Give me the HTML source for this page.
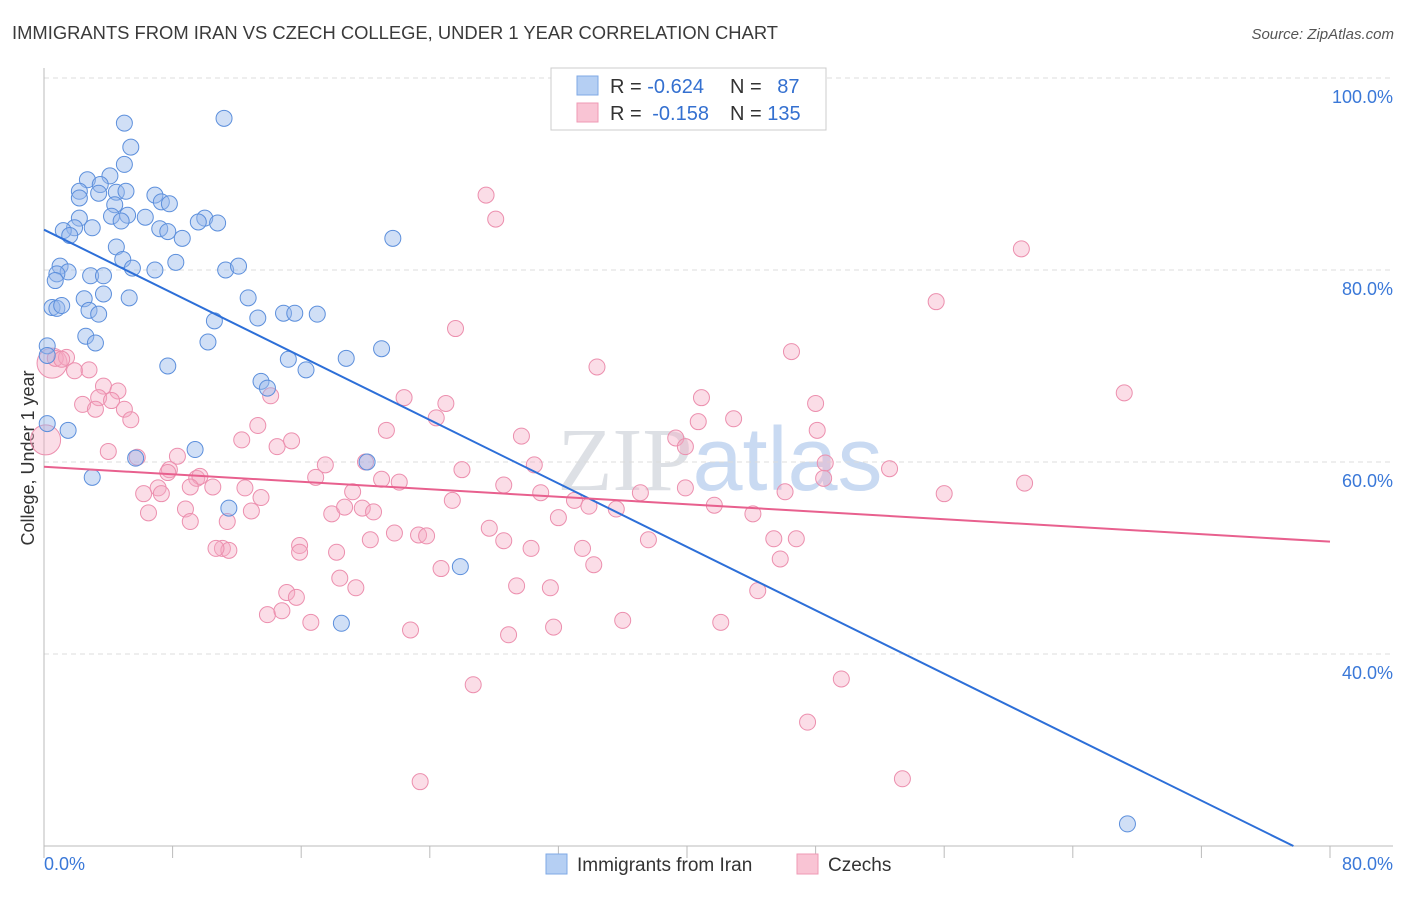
<!DOCTYPE html>
<html><head><meta charset="utf-8"><style>
body{margin:0;background:#fff;font-family:"Liberation Sans",sans-serif;}
svg text{font-family:"Liberation Sans",sans-serif;}
</style></head><body>
<svg id="chart" width="1406" height="892" xmlns="http://www.w3.org/2000/svg">
<text x="12" y="39" font-size="18" fill="#3a3a3a" textLength="766" lengthAdjust="spacingAndGlyphs">IMMIGRANTS FROM IRAN VS CZECH COLLEGE, UNDER 1 YEAR CORRELATION CHART</text>
<text x="1394" y="39" font-size="15" fill="#555" text-anchor="end" font-style="italic">Source: ZipAtlas.com</text>
<text x="720" y="490" font-size="90" text-anchor="middle" fill="#e4e9f1"><tspan font-family="Liberation Serif" fill="#dde0e5">ZIP</tspan><tspan fill="#c9daf2">atlas</tspan></text>
<text transform="translate(34,458) rotate(-90)" font-size="18" fill="#333" text-anchor="middle">College, Under 1 year</text>
<g id="grid"></g><g id="pts"></g><g id="lines"></g>
<g>
<rect x="551" y="68" width="275" height="62" fill="#fff" stroke="#ccc"/>
<rect x="577" y="76" width="21" height="19" fill="#b5cff3" stroke="#7fa9e6"/>
<rect x="577" y="103" width="21" height="19" fill="#f9c4d4" stroke="#ef9ab5"/>
<text x="610" y="93" font-size="20" fill="#333">R = <tspan fill="#3470d0">-0.624</tspan></text>
<text x="730" y="93" font-size="20" fill="#333">N = <tspan fill="#3470d0" dx="10">87</tspan></text>
<text x="610" y="120" font-size="20" fill="#333">R = <tspan fill="#3470d0" dx="5">-0.158</tspan></text>
<text x="730" y="120" font-size="20" fill="#333">N = <tspan fill="#3470d0">135</tspan></text>
</g>
<g>
<rect x="546" y="854" width="21" height="20" fill="#b5cff3" stroke="#7fa9e6"/>
<text x="577" y="871" font-size="19" fill="#333">Immigrants from Iran</text>
<rect x="797" y="854" width="21" height="20" fill="#f9c4d4" stroke="#ef9ab5"/>
<text x="828" y="871" font-size="19" fill="#333">Czechs</text>
</g>
</svg>
<script>
const xTicks=[0,10,20,30,40,50,60,70,80];
const yTicks=[40,60,80,100];
const blueX=[5.0,11.2,5.4,5.0,4.1,2.7,2.2,3.5,4.5,5.1,6.9,7.3,7.8,2.2,3.4,4.4,5.2,4.2,6.3,4.8,2.2,10.0,10.8,9.6,1.9,1.2,1.6,3.0,7.2,7.7,8.6,21.7,4.5,4.9,8.2,1.0,1.5,0.8,0.7,5.5,6.9,11.3,12.1,2.9,3.7,3.7,5.3,2.5,12.7,0.5,0.8,1.1,2.8,3.4,14.9,15.6,17.0,13.3,10.6,2.6,3.2,10.2,0.2,21.0,0.2,15.2,18.8,16.3,7.7,13.5,13.9,1.5,0.2,9.4,5.7,20.1,3.0,11.5,25.9,18.5,67.4];
const blueY=[95.3,95.8,92.8,91.0,89.8,89.4,88.2,88.9,88.1,88.2,87.8,87.1,86.9,87.5,88.0,86.8,85.7,85.6,85.5,85.1,85.4,85.4,84.9,85.0,84.4,84.1,83.6,84.4,84.3,84.0,83.3,83.3,82.4,81.1,80.8,80.4,79.8,79.6,78.9,80.2,80.0,80.0,80.4,79.4,79.4,77.5,77.1,77.0,77.1,76.1,76.0,76.3,75.8,75.4,75.5,75.5,75.4,75.0,74.7,73.1,72.4,72.5,72.1,71.8,71.1,70.7,70.8,69.6,70.0,68.4,67.7,63.3,64.0,61.3,60.4,60.0,58.4,55.2,49.1,43.2,22.3];
const pinkX=[27.5,28.1,60.8,55.5,25.6,46.5,34.4,67.2,0.5,0.1,0.7,1.4,1.1,1.9,2.8,3.7,4.6,2.4,3.4,3.2,4.2,5.0,5.4,14.1,22.4,25.0,24.4,40.9,42.9,40.7,48.0,48.1,21.3,29.7,39.3,39.9,4.0,5.8,8.3,12.3,13.3,14.5,15.4,17.5,20.0,30.5,48.6,52.6,48.5,7.8,7.7,9.5,9.7,10.5,6.2,7.1,7.3,9.1,12.5,13.5,16.9,19.2,21.0,22.1,26.0,25.4,28.6,30.9,33.0,33.9,35.6,37.1,39.9,41.7,46.1,44.1,56.0,61.0,6.5,8.8,9.1,11.4,12.9,17.9,18.7,19.8,20.5,11.1,11.5,10.7,15.9,15.9,18.2,20.3,21.8,23.3,23.8,27.7,28.6,30.3,32.0,33.5,34.2,37.6,45.4,46.8,45.8,24.7,29.4,31.5,19.4,18.4,15.1,15.7,13.9,14.8,16.6,22.8,28.9,31.7,36.0,42.1,44.4,26.7,49.6,47.5,23.4,53.4];
const pinkY=[87.8,85.3,82.2,76.7,73.9,71.5,69.9,67.2,70.3,62.3,70.8,70.9,70.7,69.5,69.6,67.9,67.4,66.0,66.7,65.5,66.4,65.5,64.4,66.9,66.7,66.1,64.6,66.7,64.5,64.2,66.1,63.3,63.3,62.7,62.5,61.6,61.1,60.5,60.6,62.3,63.8,61.6,62.2,59.7,60.0,59.7,59.9,59.3,58.3,59.2,58.9,58.3,58.5,57.4,56.7,57.3,56.7,57.4,57.3,56.3,58.4,56.9,58.2,57.9,59.2,56.0,57.6,56.8,56.0,55.4,55.1,56.8,57.3,55.5,56.9,54.6,56.7,57.8,54.7,55.1,53.8,53.8,54.9,54.6,55.3,55.2,54.8,51.0,50.8,51.0,51.3,50.6,50.6,51.9,52.6,52.4,52.3,53.1,51.8,51.0,54.2,51.0,49.3,51.9,52.0,52.0,49.9,48.9,47.1,46.9,46.9,47.9,46.4,45.9,44.1,44.5,43.3,42.5,42.0,42.8,43.5,43.3,46.6,36.8,37.4,32.9,26.7,27.0];
const bigPink=[8,9];
const blueTrend=[84.2,-0.826];
const pinkTrend=[59.5,-0.0975];
const NS='http://www.w3.org/2000/svg';
const X0=44,X1=1330,Y0=846,Y1=78;
const sx=v=>X0+(v/80)*(X1-X0);
const sy=v=>Y0-((v-20)/80)*(Y0-Y1);
function mk(tag,attrs,parent){const e=document.createElementNS(NS,tag);for(const k in attrs)e.setAttribute(k,attrs[k]);parent.appendChild(e);return e;}
const grid=document.getElementById('grid');
yTicks.forEach(t=>{
  const l=mk('line',{x1:X0,x2:1393,y1:sy(t),y2:sy(t),stroke:'#dcdcdc','stroke-dasharray':'5,4'},grid);
  
  
  const tx=mk('text',{x:1393,y:sy(t)+25,'font-size':18,fill:'#3a78d8','text-anchor':'end'},grid);
  tx.textContent=t.toFixed(1)+'%';
  
  
});
mk('line',{x1:X0,x2:X0,y1:68,y2:Y0,stroke:'#bbb'},grid);
mk('line',{x1:X0,x2:1393,y1:Y0,y2:Y0,stroke:'#bbb'},grid);
for(let i=0;i<=10;i++){const v=i*8;
  const t=mk('line',{x1:sx(v),x2:sx(v),y1:Y0,y2:Y0+12,stroke:'#bbb'},grid);
  
  
}
[[0,'start'],[80,'end']].forEach(([v,a])=>{
  const tx=mk('text',{x:v==0?44:1393,y:870,'font-size':18,fill:'#3a78d8','text-anchor':a},grid);
  tx.textContent=v.toFixed(1)+'%';
  
  
});
const pts=document.getElementById('pts');
pinkX.forEach((x,i)=>{
  const c=mk('circle',{cx:sx(x),cy:sy(pinkY[i]),r:bigPink.includes(i)?15:8,fill:'rgba(244,170,195,0.4)',stroke:'#ec8fae','stroke-width':1},pts);
  
  
});
blueX.forEach((x,i)=>{
  const c=mk('circle',{cx:sx(x),cy:sy(blueY[i]),r:8,fill:'rgba(150,185,235,0.45)',stroke:'#5c8fdc','stroke-width':1},pts);
  
  
});
const lines=document.getElementById('lines');
const bx=(20-blueTrend[0])/blueTrend[1];
const bl=mk('line',{x1:sx(0),y1:sy(blueTrend[0]),x2:sx(bx),y2:sy(20),stroke:'#2d6fd8','stroke-width':2},lines);


const pl=mk('line',{x1:sx(0),y1:sy(pinkTrend[0]),x2:sx(80),y2:sy(pinkTrend[0]+pinkTrend[1]*80),stroke:'#e8608e','stroke-width':2},lines);


</script>
</body></html>
